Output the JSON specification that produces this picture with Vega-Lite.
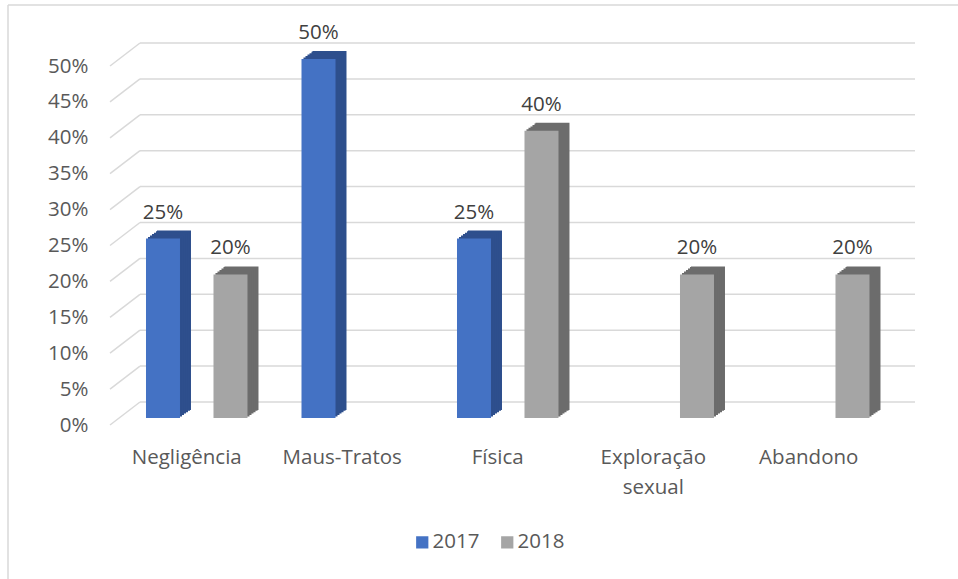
{
  "$schema": "https://vega.github.io/schema/vega-lite/v6.json",
  "width": 805,
  "height": 359,
  "autosize": {"type": "none"},
  "padding": {"left": 110, "top": 43, "right": 43, "bottom": 177},
  "background": "white",
  "config": {
    "view": {"stroke": null},
    "font": "Open Sans",
    "axis": {"labelFont": "Open Sans", "labelColor": "#595959", "labelFontSize": 20.5},
    "axisY": {"labelOverlap": false, "labelSeparation": 0},
    "legend": {"labelFont": "Open Sans", "labelColor": "#595959", "labelFontSize": 20.5}
  },
  "datasets": {
    "bars": [
      {"cat": "Negligência", "year": "2017", "v": 0.25},
      {"cat": "Negligência", "year": "2018", "v": 0.20},
      {"cat": "Maus-Tratos", "year": "2017", "v": 0.50},
      {"cat": "Física", "year": "2017", "v": 0.25},
      {"cat": "Física", "year": "2018", "v": 0.40},
      {"cat": "Exploração sexual", "year": "2018", "v": 0.20},
      {"cat": "Abandono", "year": "2018", "v": 0.20}
    ],
    "ticks": [
      {"t": 0}, {"t": 0.05}, {"t": 0.1}, {"t": 0.15}, {"t": 0.2}, {"t": 0.25},
      {"t": 0.3}, {"t": 0.35}, {"t": 0.4}, {"t": 0.45}, {"t": 0.5}
    ]
  },
  "resolve": {"scale": {"xOffset": "independent"}},
  "layer": [
    {
      "data": {"name": "ticks"},
      "mark": {"type": "rule", "color": "#D9D9D9", "strokeWidth": 1.5, "xOffset": 30},
      "encoding": {
        "y": {"field": "t", "type": "quantitative", "scale": {"domain": [0, 0.5], "nice": false, "zero": true},
          "axis": {"values": [0, 0.05, 0.1, 0.15, 0.2, 0.25, 0.3, 0.35, 0.4, 0.45, 0.5], "tickCount": 11, "format": ".0%", "title": null, "grid": false, "domain": false, "ticks": false, "labelPadding": 22, "labelOffset": 23, "labelOverlap": false, "labelBound": false, "labelFlush": false}},
        "x": {"value": 0},
        "x2": {"value": "width"}
      }
    },
    {
      "data": {"name": "ticks"},
      "mark": {"type": "rule", "color": "#D9D9D9", "strokeWidth": 1.5, "yOffset": 23, "x2Offset": 30},
      "encoding": {
        "y": {"field": "t", "type": "quantitative"},
        "y2": {"field": "t"},
        "x": {"value": 0},
        "x2": {"value": 0}
      }
    },
    {
      "data": {"values": [{}]},
      "mark": {"type": "rule", "color": "#D9D9D9", "strokeWidth": 1.5},
      "encoding": {"x": {"value": -102}, "y": {"value": -38}, "y2": {"value": 540}}
    },
    {
      "data": {"values": [{}]},
      "mark": {"type": "rule", "color": "#D9D9D9", "strokeWidth": 1.5},
      "encoding": {"x": {"value": -102}, "x2": {"value": 850}, "y": {"value": -38}}
    },
    {
      "data": {"name": "bars"},
      "resolve": {"scale": {"xOffset": "independent"}},
      "layer": [
        {"mark": {"type": "bar", "size": 34, "yOffset": 8, "y2Offset": 8},
         "encoding": {"xOffset": {"field": "year", "type": "nominal", "scale": {"domain": ["2017", "2018"], "range": [11, 166.5], "paddingInner": 0, "paddingOuter": 0.152}}}},
        {"mark": {"type": "bar", "size": 34, "yOffset": 8.7, "y2Offset": 8.7},
         "encoding": {"xOffset": {"field": "year", "type": "nominal", "scale": {"domain": ["2017", "2018"], "range": [10, 165.5], "paddingInner": 0, "paddingOuter": 0.152}}}},
        {"mark": {"type": "bar", "size": 34, "yOffset": 10.2, "y2Offset": 10.2},
         "encoding": {"xOffset": {"field": "year", "type": "nominal", "scale": {"domain": ["2017", "2018"], "range": [8, 163.5], "paddingInner": 0, "paddingOuter": 0.152}}}},
        {"mark": {"type": "bar", "size": 34, "yOffset": 11.6, "y2Offset": 11.6},
         "encoding": {"xOffset": {"field": "year", "type": "nominal", "scale": {"domain": ["2017", "2018"], "range": [6, 161.5], "paddingInner": 0, "paddingOuter": 0.152}}}},
        {"mark": {"type": "bar", "size": 34, "yOffset": 13, "y2Offset": 13},
         "encoding": {"xOffset": {"field": "year", "type": "nominal", "scale": {"domain": ["2017", "2018"], "range": [4, 159.5], "paddingInner": 0, "paddingOuter": 0.152}}}},
        {"mark": {"type": "bar", "size": 34, "yOffset": 14.5, "y2Offset": 14.5},
         "encoding": {"xOffset": {"field": "year", "type": "nominal", "scale": {"domain": ["2017", "2018"], "range": [2, 157.5], "paddingInner": 0, "paddingOuter": 0.152}}}}
      ],
      "encoding": {
        "x": {"field": "cat", "type": "nominal", "sort": ["Negligência", "Maus-Tratos", "Física", "Exploração sexual", "Abandono"],
          "scale": {"paddingInner": 0, "paddingOuter": 0.0884, "align": 0.327}},
        "y": {"field": "v", "type": "quantitative"},
        "fill": {"condition": {"test": "datum.year == '2017'", "value": "#2E4F8D"}, "value": "#6C6C6C"}
      }
    },
    {
      "data": {"name": "bars"},
      "mark": {"type": "bar", "size": 34, "yOffset": 16, "y2Offset": 16},
      "encoding": {
        "x": {"field": "cat", "type": "nominal", "sort": ["Negligência", "Maus-Tratos", "Física", "Exploração sexual", "Abandono"],
          "axis": {"title": null, "domain": false, "ticks": false, "labelAngle": 0, "labelAlign": "center", "labelPadding": 55, "labelOffset": -10, "labelLineHeight": 30,
            "labelExpr": "datum.label == 'Exploração sexual' ? ['Exploração', 'sexual'] : datum.label"}},
        "xOffset": {"field": "year", "type": "nominal", "scale": {"domain": ["2017", "2018"], "paddingInner": 0, "paddingOuter": 0.152}},
        "y": {"field": "v", "type": "quantitative",
          "axis": {"values": [0, 0.05, 0.1, 0.15, 0.2, 0.25, 0.3, 0.35, 0.4, 0.45, 0.5], "tickCount": 11, "format": ".0%", "title": null, "grid": false, "domain": false, "ticks": false, "labelPadding": 22, "labelOffset": 23, "labelOverlap": false, "labelBound": false, "labelFlush": false}},
        "color": {"field": "year", "type": "nominal", "scale": {"domain": ["2017", "2018"], "range": ["#4472C4", "#A5A5A5"]},
          "legend": {"title": null, "orient": "none", "legendX": 302, "legendY": 489, "direction": "horizontal", "symbolType": "square", "symbolSize": 150, "symbolStrokeWidth": 0, "columnPadding": 17, "labelOffset": 0}}
      }
    },
    {
      "data": {"name": "bars"},
      "mark": {"type": "text", "fontSize": 20.5, "color": "#404040", "baseline": "alphabetic", "yOffset": -4},
      "encoding": {
        "x": {"field": "cat", "type": "nominal", "sort": ["Negligência", "Maus-Tratos", "Física", "Exploração sexual", "Abandono"]},
        "xOffset": {"field": "year", "type": "nominal", "scale": {"type": "point", "domain": ["2017", "2018"], "padding": 0.652}},
        "y": {"field": "v", "type": "quantitative"},
        "text": {"field": "v", "type": "quantitative", "format": ".0%"}
      }
    }
  ]
}
